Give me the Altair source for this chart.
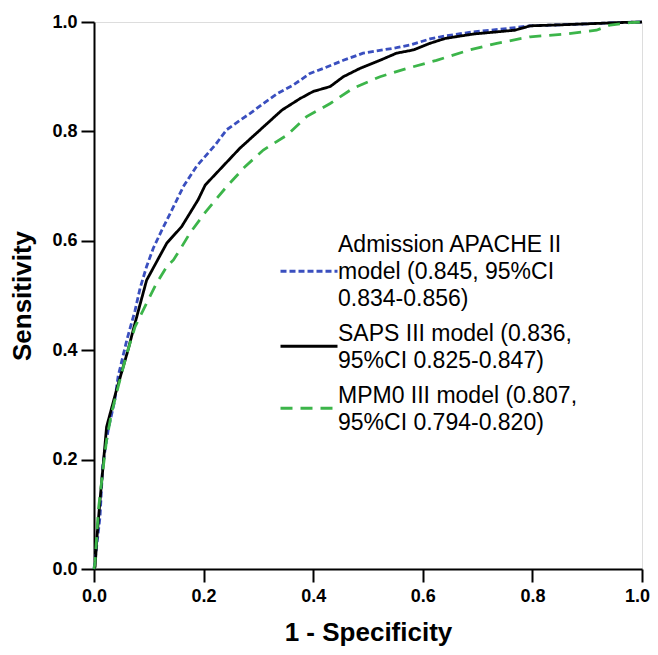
import json
import altair as alt
import pandas as pd

# ---- data ----
series_keys = ["APACHE", "SAPS", "MPM0"]
legend_lines = [
    ["Admission APACHE II", "model (0.845, 95%CI", "0.834-0.856)"],
    ["SAPS III model (0.836,", "95%CI 0.825-0.847)"],
    ["MPM0 III model (0.807,", "95%CI 0.794-0.820)"],
]

apache_x = [0, 0.002, 0.011, 0.016, 0.026, 0.038, 0.044, 0.060, 0.075, 0.084, 0.096, 0.108,
            0.124, 0.142, 0.163, 0.187, 0.221, 0.242, 0.263, 0.285, 0.309, 0.336, 0.364,
            0.394, 0.418, 0.455, 0.491, 0.552, 0.577, 0.613, 0.644, 0.692, 0.753, 0.796,
            0.856, 0.960, 1.0]
apache_y = [0, 0.016, 0.096, 0.19, 0.255, 0.309, 0.352, 0.419, 0.473, 0.513, 0.553, 0.586,
            0.620, 0.656, 0.699, 0.736, 0.775, 0.803, 0.818, 0.833, 0.851, 0.870, 0.885,
            0.906, 0.915, 0.930, 0.943, 0.953, 0.958, 0.969, 0.975, 0.982, 0.988, 0.993,
            0.995, 0.999, 1.0]

saps_x = [0, 0.002, 0.005, 0.011, 0.023, 0.041, 0.062, 0.075, 0.096, 0.133, 0.160, 0.190,
          0.203, 0.266, 0.343, 0.376, 0.400, 0.431, 0.455, 0.485, 0.522, 0.552, 0.583,
          0.613, 0.641, 0.692, 0.768, 0.796, 0.856, 0.960, 1.0]
saps_y = [0, 0.004, 0.053, 0.126, 0.260, 0.327, 0.400, 0.450, 0.528, 0.596, 0.626, 0.675,
          0.702, 0.769, 0.839, 0.860, 0.873, 0.882, 0.900, 0.915, 0.930, 0.943, 0.949,
          0.961, 0.970, 0.978, 0.985, 0.993, 0.995, 0.999, 1.0]

mpm_x = [0, 0.002, 0.008, 0.017, 0.023, 0.032, 0.044, 0.060, 0.075, 0.096, 0.114, 0.133,
         0.145, 0.160, 0.175, 0.203, 0.242, 0.276, 0.309, 0.352, 0.388, 0.431, 0.449,
         0.473, 0.522, 0.571, 0.625, 0.686, 0.735, 0.796, 0.856, 0.917, 0.942, 0.978, 1.0]
mpm_y = [0, 0.013, 0.108, 0.187, 0.236, 0.285, 0.333, 0.394, 0.443, 0.486, 0.522, 0.553,
         0.565, 0.589, 0.614, 0.652, 0.699, 0.736, 0.766, 0.793, 0.827, 0.851, 0.863,
         0.879, 0.900, 0.915, 0.930, 0.949, 0.961, 0.973, 0.9775, 0.985, 0.9945, 0.999, 1.0]

tick_values = [0.0, 0.2, 0.4, 0.6, 0.8, 1.0]

# ---- styles ----
colors = ["#3a4fbf", "#000000", "#3cb54a"]
dashes = [[6, 3], [1, 0], [12, 8]]
FONT = "Liberation Sans"

rows = []
for key, xs, ys in [("APACHE", apache_x, apache_y), ("SAPS", saps_x, saps_y), ("MPM0", mpm_x, mpm_y)]:
    for i, (a, b) in enumerate(zip(xs, ys)):
        rows.append({"series": key, "fpr": a, "tpr": b, "order": i})
df = pd.DataFrame(rows)

label_expr = ""
for key, lines in zip(series_keys[:-1], legend_lines[:-1]):
    label_expr += f"datum.label == '{key}' ? {json.dumps(lines)} : "
label_expr += json.dumps(legend_lines[-1])

# symbol: horizontal stroke drawn a bit below the entry anchor so it sits
# at the vertical centre of the multi-line label
legend = alt.Legend(
    title=None, orient="none", legendX=192, legendY=214,
    symbolType="M-1.3256,0.57L1.3256,0.57", symbolSize=1849, symbolStrokeWidth=3,
    labelFont=FONT, labelFontSize=23, labelColor="black", labelLimit=0,
    labelOffset=6, rowPadding=0, padding=0, labelExpr=label_expr,
    labelBaseline={"expr": "datum.label == 'APACHE' ? 'line-bottom' : 'middle'"},
)

axis_common = dict(
    grid=False, tickSize=13, tickWidth=2, tickColor="black",
    domainWidth=2, domainColor="black", labelFont=FONT, labelFontSize=18,
    labelFontWeight="bold", labelColor="black", titleFont=FONT, titleFontSize=26,
    titleFontWeight="bold", titleColor="black", values=tick_values, format=".1f",
    labelFlush=False,
)

chart = alt.Chart(df).mark_line(strokeWidth=2.8, strokeCap="butt").encode(
    x=alt.X("fpr:Q", scale=alt.Scale(domain=[0, 1], nice=False),
            axis=alt.Axis(title="1 - Specificity", labelPadding=5, titlePadding=14,
                          labelOffset={"expr": "datum.value == 1 ? -5 : 0"}, **axis_common)),
    y=alt.Y("tpr:Q", scale=alt.Scale(domain=[0, 1], nice=False),
            axis=alt.Axis(title="Sensitivity", labelPadding=4, titlePadding=16, **axis_common)),
    color=alt.Color("series:N", scale=alt.Scale(domain=series_keys, range=colors), legend=legend),
    strokeDash=alt.StrokeDash("series:N", scale=alt.Scale(domain=series_keys, range=dashes), legend=legend),
    order="order:Q",
).properties(
    width=548, height=547,
    autosize=alt.AutoSizeParams(type="none"),
    padding={"left": 86, "top": 14, "right": 8, "bottom": 78},
).configure_view(
    stroke="black", strokeWidth=1.5
).configure(
    style={"guide-label": {"lineHeight": 27}}
)

chart.save("out.html", embed_options={"renderer": "svg", "actions": False})
